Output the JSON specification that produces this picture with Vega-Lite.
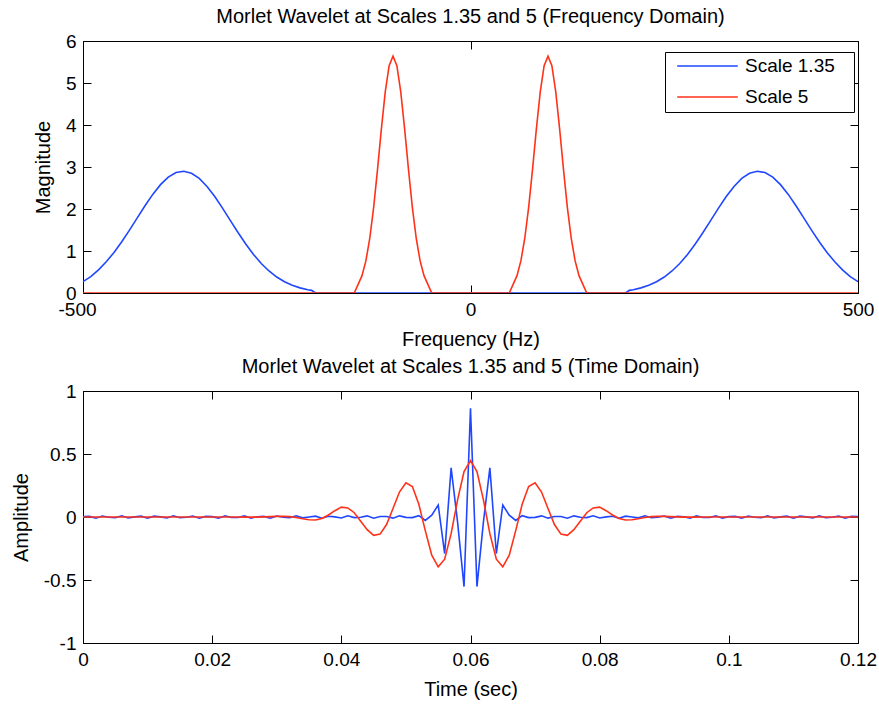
{
  "$schema": "https://vega.github.io/schema/vega-lite/v6.json",
  "background": "#ffffff",
  "padding": {"left": 10, "top": 6, "right": 5, "bottom": 5},
  "spacing": 6,
  "config": {
    "font": "Liberation Sans",
    "view": {"stroke": "#000000", "strokeWidth": 1},
    "axis": {
      "domain": false, "grid": false, "tickColor": "#000000", "tickSize": -8, "tickWidth": 1,
      "labelFontSize": 19, "labelColor": "#000000", "labelFont": "Liberation Sans", "labelPadding": 15,
      "labelFlush": false, "labelOverlap": false,
      "titleFontSize": 20, "titleFontWeight": "normal", "titleColor": "#000000", "titleFont": "Liberation Sans"
    },
    "title": {"fontSize": 20, "fontWeight": "normal", "color": "#000000", "font": "Liberation Sans", "frame": "group", "offset": 5}
  },
  "datasets": {
    "fb": [
      {"s": "Scale 1.35", "f": -500, "m": 0.27}, {"s": "Scale 1.35", "f": -490, "m": 0.39}, {"s": "Scale 1.35", "f": -480, "m": 0.55},
      {"s": "Scale 1.35", "f": -470, "m": 0.743}, {"s": "Scale 1.35", "f": -460, "m": 0.965}, {"s": "Scale 1.35", "f": -450, "m": 1.219},
      {"s": "Scale 1.35", "f": -440, "m": 1.497}, {"s": "Scale 1.35", "f": -430, "m": 1.788}, {"s": "Scale 1.35", "f": -420, "m": 2.078},
      {"s": "Scale 1.35", "f": -410, "m": 2.348}, {"s": "Scale 1.35", "f": -400, "m": 2.58}, {"s": "Scale 1.35", "f": -390, "m": 2.758},
      {"s": "Scale 1.35", "f": -380, "m": 2.868}, {"s": "Scale 1.35", "f": -370, "m": 2.9}, {"s": "Scale 1.35", "f": -360, "m": 2.852},
      {"s": "Scale 1.35", "f": -350, "m": 2.728}, {"s": "Scale 1.35", "f": -340, "m": 2.538}, {"s": "Scale 1.35", "f": -330, "m": 2.296},
      {"s": "Scale 1.35", "f": -320, "m": 2.021}, {"s": "Scale 1.35", "f": -310, "m": 1.73}, {"s": "Scale 1.35", "f": -300, "m": 1.44},
      {"s": "Scale 1.35", "f": -290, "m": 1.166}, {"s": "Scale 1.35", "f": -280, "m": 0.918}, {"s": "Scale 1.35", "f": -270, "m": 0.703},
      {"s": "Scale 1.35", "f": -260, "m": 0.524}, {"s": "Scale 1.35", "f": -250, "m": 0.38}, {"s": "Scale 1.35", "f": -240, "m": 0.267},
      {"s": "Scale 1.35", "f": -230, "m": 0.183}, {"s": "Scale 1.35", "f": -220, "m": 0.122}, {"s": "Scale 1.35", "f": -210, "m": 0.079},
      {"s": "Scale 1.35", "f": -205, "m": 0.063}, {"s": "Scale 1.35", "f": -200, "m": 0},
      {"s": "Scale 1.35", "f": 200, "m": 0}, {"s": "Scale 1.35", "f": 205, "m": 0.063},
      {"s": "Scale 1.35", "f": 210, "m": 0.079}, {"s": "Scale 1.35", "f": 220, "m": 0.122}, {"s": "Scale 1.35", "f": 230, "m": 0.183},
      {"s": "Scale 1.35", "f": 240, "m": 0.267}, {"s": "Scale 1.35", "f": 250, "m": 0.38}, {"s": "Scale 1.35", "f": 260, "m": 0.524},
      {"s": "Scale 1.35", "f": 270, "m": 0.703}, {"s": "Scale 1.35", "f": 280, "m": 0.918}, {"s": "Scale 1.35", "f": 290, "m": 1.166},
      {"s": "Scale 1.35", "f": 300, "m": 1.44}, {"s": "Scale 1.35", "f": 310, "m": 1.73}, {"s": "Scale 1.35", "f": 320, "m": 2.021},
      {"s": "Scale 1.35", "f": 330, "m": 2.296}, {"s": "Scale 1.35", "f": 340, "m": 2.538}, {"s": "Scale 1.35", "f": 350, "m": 2.728},
      {"s": "Scale 1.35", "f": 360, "m": 2.852}, {"s": "Scale 1.35", "f": 370, "m": 2.9}, {"s": "Scale 1.35", "f": 380, "m": 2.868},
      {"s": "Scale 1.35", "f": 390, "m": 2.758}, {"s": "Scale 1.35", "f": 400, "m": 2.58}, {"s": "Scale 1.35", "f": 410, "m": 2.348},
      {"s": "Scale 1.35", "f": 420, "m": 2.078}, {"s": "Scale 1.35", "f": 430, "m": 1.788}, {"s": "Scale 1.35", "f": 440, "m": 1.497},
      {"s": "Scale 1.35", "f": 450, "m": 1.219}, {"s": "Scale 1.35", "f": 460, "m": 0.965}, {"s": "Scale 1.35", "f": 470, "m": 0.743},
      {"s": "Scale 1.35", "f": 480, "m": 0.55}, {"s": "Scale 1.35", "f": 490, "m": 0.39}, {"s": "Scale 1.35", "f": 500, "m": 0.27}
    ],
    "fr": [
      {"s": "Scale 5", "f": -500, "m": 0}, {"s": "Scale 5", "f": -150, "m": 0},
      {"s": "Scale 5", "f": -145, "m": 0.207}, {"s": "Scale 5", "f": -140, "m": 0.414}, {"s": "Scale 5", "f": -135, "m": 0.763},
      {"s": "Scale 5", "f": -130, "m": 1.298}, {"s": "Scale 5", "f": -125, "m": 2.033}, {"s": "Scale 5", "f": -120, "m": 2.936},
      {"s": "Scale 5", "f": -115, "m": 3.906}, {"s": "Scale 5", "f": -110, "m": 4.79}, {"s": "Scale 5", "f": -105, "m": 5.414},
      {"s": "Scale 5", "f": -100, "m": 5.64}, {"s": "Scale 5", "f": -95, "m": 5.414}, {"s": "Scale 5", "f": -90, "m": 4.79},
      {"s": "Scale 5", "f": -85, "m": 3.906}, {"s": "Scale 5", "f": -80, "m": 2.936}, {"s": "Scale 5", "f": -75, "m": 2.033},
      {"s": "Scale 5", "f": -70, "m": 1.298}, {"s": "Scale 5", "f": -65, "m": 0.763}, {"s": "Scale 5", "f": -60, "m": 0.414},
      {"s": "Scale 5", "f": -55, "m": 0.207}, {"s": "Scale 5", "f": -50, "m": 0},
      {"s": "Scale 5", "f": 50, "m": 0}, {"s": "Scale 5", "f": 55, "m": 0.207}, {"s": "Scale 5", "f": 60, "m": 0.414},
      {"s": "Scale 5", "f": 65, "m": 0.763}, {"s": "Scale 5", "f": 70, "m": 1.298}, {"s": "Scale 5", "f": 75, "m": 2.033},
      {"s": "Scale 5", "f": 80, "m": 2.936}, {"s": "Scale 5", "f": 85, "m": 3.906}, {"s": "Scale 5", "f": 90, "m": 4.79},
      {"s": "Scale 5", "f": 95, "m": 5.414}, {"s": "Scale 5", "f": 100, "m": 5.64}, {"s": "Scale 5", "f": 105, "m": 5.414},
      {"s": "Scale 5", "f": 110, "m": 4.79}, {"s": "Scale 5", "f": 115, "m": 3.906}, {"s": "Scale 5", "f": 120, "m": 2.936},
      {"s": "Scale 5", "f": 125, "m": 2.033}, {"s": "Scale 5", "f": 130, "m": 1.298}, {"s": "Scale 5", "f": 135, "m": 0.763},
      {"s": "Scale 5", "f": 140, "m": 0.414}, {"s": "Scale 5", "f": 145, "m": 0.207}, {"s": "Scale 5", "f": 150, "m": 0},
      {"s": "Scale 5", "f": 500, "m": 0}
    ],
    "td": [
      {"t": 0.000, "b": 0.003, "r": 0}, {"t": 0.001, "b": 0.005, "r": 0}, {"t": 0.002, "b": -0.01, "r": 0},
      {"t": 0.003, "b": 0.008, "r": 0}, {"t": 0.004, "b": -0.002, "r": 0}, {"t": 0.005, "b": -0.006, "r": 0},
      {"t": 0.006, "b": 0.01, "r": 0}, {"t": 0.007, "b": -0.008, "r": 0}, {"t": 0.008, "b": 0.001, "r": 0},
      {"t": 0.009, "b": 0.007, "r": 0}, {"t": 0.010, "b": -0.01, "r": 0}, {"t": 0.011, "b": 0.007, "r": 0},
      {"t": 0.012, "b": 0.001, "r": 0}, {"t": 0.013, "b": -0.008, "r": 0}, {"t": 0.014, "b": 0.01, "r": 0},
      {"t": 0.015, "b": -0.006, "r": 0}, {"t": 0.016, "b": -0.002, "r": 0}, {"t": 0.017, "b": 0.008, "r": 0},
      {"t": 0.018, "b": -0.01, "r": 0}, {"t": 0.019, "b": 0.005, "r": 0}, {"t": 0.020, "b": 0.003, "r": 0},
      {"t": 0.021, "b": -0.009, "r": 0}, {"t": 0.022, "b": 0.009, "r": 0}, {"t": 0.023, "b": -0.004, "r": 0},
      {"t": 0.024, "b": -0.004, "r": 0}, {"t": 0.025, "b": 0.01, "r": -0.001}, {"t": 0.026, "b": -0.009, "r": -0.001},
      {"t": 0.027, "b": 0.002, "r": -0.001}, {"t": 0.028, "b": 0.005, "r": 0.001}, {"t": 0.029, "b": -0.01, "r": 0.003},
      {"t": 0.030, "b": 0.008, "r": 0.005}, {"t": 0.031, "b": -0.001, "r": 0.005}, {"t": 0.032, "b": -0.006, "r": 0.003},
      {"t": 0.033, "b": 0.01, "r": -0.004}, {"t": 0.034, "b": -0.007, "r": -0.014}, {"t": 0.035, "b": 0, "r": -0.022},
      {"t": 0.036, "b": 0.007, "r": -0.024}, {"t": 0.037, "b": -0.01, "r": -0.012}, {"t": 0.038, "b": 0.006, "r": 0.016},
      {"t": 0.039, "b": 0.001, "r": 0.05}, {"t": 0.040, "b": -0.008, "r": 0.078}, {"t": 0.041, "b": 0.01, "r": 0.072},
      {"t": 0.042, "b": -0.005, "r": 0.034}, {"t": 0.043, "b": -0.002, "r": -0.033}, {"t": 0.044, "b": 0.009, "r": -0.101},
      {"t": 0.045, "b": -0.01, "r": -0.146}, {"t": 0.046, "b": 0.004, "r": -0.136}, {"t": 0.047, "b": 0.004, "r": -0.06},
      {"t": 0.048, "b": -0.009, "r": 0.067}, {"t": 0.049, "b": 0.009, "r": 0.198}, {"t": 0.050, "b": -0.003, "r": 0.272},
      {"t": 0.051, "b": -0.005, "r": 0.242}, {"t": 0.052, "b": 0.011, "r": 0.101}, {"t": 0.053, "b": -0.027, "r": -0.108},
      {"t": 0.054, "b": 0.014, "r": -0.303}, {"t": 0.055, "b": 0.095, "r": -0.395}, {"t": 0.056, "b": -0.29, "r": -0.335},
      {"t": 0.057, "b": 0.39, "r": -0.132}, {"t": 0.058, "b": -0.041, "r": 0.136}, {"t": 0.059, "b": -0.552, "r": 0.361},
      {"t": 0.060, "b": 0.862, "r": 0.448},
      {"t": 0.061, "b": -0.552, "r": 0.361}, {"t": 0.062, "b": -0.041, "r": 0.136}, {"t": 0.063, "b": 0.39, "r": -0.132},
      {"t": 0.064, "b": -0.29, "r": -0.335}, {"t": 0.065, "b": 0.095, "r": -0.395}, {"t": 0.066, "b": 0.014, "r": -0.303},
      {"t": 0.067, "b": -0.027, "r": -0.108}, {"t": 0.068, "b": 0.011, "r": 0.101}, {"t": 0.069, "b": -0.005, "r": 0.242},
      {"t": 0.070, "b": -0.003, "r": 0.272}, {"t": 0.071, "b": 0.009, "r": 0.198}, {"t": 0.072, "b": -0.009, "r": 0.067},
      {"t": 0.073, "b": 0.004, "r": -0.06}, {"t": 0.074, "b": 0.004, "r": -0.136}, {"t": 0.075, "b": -0.01, "r": -0.146},
      {"t": 0.076, "b": 0.009, "r": -0.101}, {"t": 0.077, "b": -0.002, "r": -0.033}, {"t": 0.078, "b": -0.005, "r": 0.034},
      {"t": 0.079, "b": 0.01, "r": 0.072}, {"t": 0.080, "b": -0.008, "r": 0.078}, {"t": 0.081, "b": 0.001, "r": 0.05},
      {"t": 0.082, "b": 0.006, "r": 0.016}, {"t": 0.083, "b": -0.01, "r": -0.012}, {"t": 0.084, "b": 0.007, "r": -0.024},
      {"t": 0.085, "b": 0, "r": -0.022}, {"t": 0.086, "b": -0.007, "r": -0.014}, {"t": 0.087, "b": 0.01, "r": -0.004},
      {"t": 0.088, "b": -0.006, "r": 0.003}, {"t": 0.089, "b": -0.001, "r": 0.005}, {"t": 0.090, "b": 0.008, "r": 0.005},
      {"t": 0.091, "b": -0.01, "r": 0.003}, {"t": 0.092, "b": 0.005, "r": 0.001}, {"t": 0.093, "b": 0.002, "r": -0.001},
      {"t": 0.094, "b": -0.009, "r": -0.001}, {"t": 0.095, "b": 0.01, "r": -0.001}, {"t": 0.096, "b": -0.004, "r": 0},
      {"t": 0.097, "b": -0.004, "r": 0}, {"t": 0.098, "b": 0.009, "r": 0}, {"t": 0.099, "b": -0.009, "r": 0},
      {"t": 0.100, "b": 0.003, "r": 0}, {"t": 0.101, "b": 0.005, "r": 0}, {"t": 0.102, "b": -0.01, "r": 0},
      {"t": 0.103, "b": 0.008, "r": 0}, {"t": 0.104, "b": -0.002, "r": 0}, {"t": 0.105, "b": -0.006, "r": 0},
      {"t": 0.106, "b": 0.01, "r": 0}, {"t": 0.107, "b": -0.008, "r": 0}, {"t": 0.108, "b": 0.001, "r": 0},
      {"t": 0.109, "b": 0.007, "r": 0}, {"t": 0.110, "b": -0.01, "r": 0}, {"t": 0.111, "b": 0.007, "r": 0},
      {"t": 0.112, "b": 0.001, "r": 0}, {"t": 0.113, "b": -0.008, "r": 0}, {"t": 0.114, "b": 0.01, "r": 0},
      {"t": 0.115, "b": -0.006, "r": 0}, {"t": 0.116, "b": -0.002, "r": 0}, {"t": 0.117, "b": 0.008, "r": 0},
      {"t": 0.118, "b": -0.01, "r": 0}, {"t": 0.119, "b": 0.005, "r": 0}, {"t": 0.120, "b": 0.003, "r": 0}
    ]
  },
  "vconcat": [
    {
      "width": 775, "height": 252,
      "title": {"text": "Morlet Wavelet at Scales 1.35 and 5 (Frequency Domain)"},
      "layer": [
        {
          "data": {"name": "fb"},
          "mark": {"type": "line", "strokeWidth": 1.6, "clip": true},
          "encoding": {
            "x": {"field": "f", "type": "quantitative", "scale": {"domain": [-500, 500], "nice": false, "zero": false},
                  "axis": {"values": [-500, 0, 500], "labelExpr": "'' + datum.value", "title": "Frequency (Hz)", "titlePadding": 10,
                           "labelOffset": {"condition": {"test": "datum.value == -500", "value": -6}, "value": 0}}},
            "y": {"field": "m", "type": "quantitative", "scale": {"domain": [0, 6], "nice": false},
                  "axis": {"values": [0, 1, 2, 3, 4, 5, 6], "labelExpr": "'' + datum.value", "title": "Magnitude", "titlePadding": 12}},
            "color": {"field": "s", "type": "nominal",
                      "scale": {"domain": ["Scale 1.35", "Scale 5"], "range": ["#2047ff", "#ff3219"]},
                      "legend": {"orient": "none", "legendX": 582, "legendY": 11, "title": null, "symbolType": "M-0.3,0H9.8",
                                 "symbolSize": 144, "symbolStrokeWidth": 1.6, "labelFontSize": 19, "labelFont": "Liberation Sans",
                                 "labelColor": "#000000", "padding": 4.5, "strokeColor": "#000000", "fillColor": "#ffffff",
                                 "labelExpr": "datum.label + '\u2800'",
                                 "cornerRadius": 0, "labelOffset": 56.5, "rowPadding": 11}}
          }
        },
        {
          "data": {"name": "fr"},
          "mark": {"type": "line", "strokeWidth": 1.6, "clip": true},
          "encoding": {
            "x": {"field": "f", "type": "quantitative", "axis": {"orient": "top", "values": [-500, 0, 500], "labels": false, "title": null}},
            "y": {"field": "m", "type": "quantitative", "axis": {"orient": "right", "values": [0, 1, 2, 3, 4, 5, 6], "labels": false, "title": null}},
            "color": {"field": "s", "type": "nominal"}
          }
        }
      ],
      "resolve": {"axis": {"x": "independent", "y": "independent"}}
    },
    {
      "width": 775, "height": 252,
      "title": {"text": "Morlet Wavelet at Scales 1.35 and 5 (Time Domain)"},
      "data": {"name": "td"},
      "layer": [
        {
          "mark": {"type": "line", "strokeWidth": 1.6, "color": "#2047ff", "clip": true},
          "encoding": {
            "x": {"field": "t", "type": "quantitative", "scale": {"domain": [0, 0.12], "nice": false, "zero": false},
                  "axis": {"values": [0, 0.02, 0.04, 0.06, 0.08, 0.1, 0.12], "labelExpr": "'' + datum.value", "title": "Time (sec)", "titlePadding": 10}},
            "y": {"field": "b", "type": "quantitative", "scale": {"domain": [-1, 1], "nice": false},
                  "axis": {"values": [-1, -0.5, 0, 0.5, 1], "labelExpr": "'' + datum.value", "title": "Amplitude", "titlePadding": 12}}
          }
        },
        {
          "mark": {"type": "line", "strokeWidth": 1.6, "color": "#ff3219", "clip": true},
          "encoding": {
            "x": {"field": "t", "type": "quantitative", "axis": {"orient": "top", "values": [0, 0.02, 0.04, 0.06, 0.08, 0.1, 0.12], "labels": false, "title": null}},
            "y": {"field": "r", "type": "quantitative", "axis": {"orient": "right", "values": [-1, -0.5, 0, 0.5, 1], "labels": false, "title": null}}
          }
        }
      ],
      "resolve": {"axis": {"x": "independent", "y": "independent"}}
    }
  ]
}
